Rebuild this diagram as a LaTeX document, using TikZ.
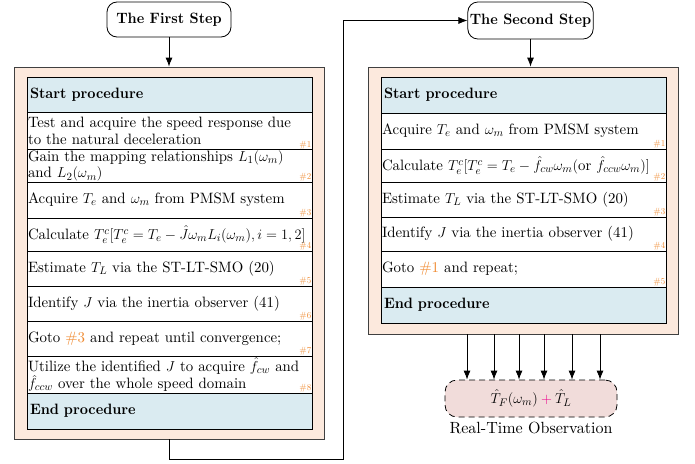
\documentclass[tikz,border=0pt]{standalone}
\usepackage{fontspec}
\setmainfont{lmroman10}[Extension=.otf, UprightFont=*-regular, BoldFont=*-bold,
  ItalicFont=*-italic, BoldItalicFont=*-bolditalic,
  UprightFeatures={FakeStretch=0.99}, BoldFeatures={FakeStretch=0.95}]
\usetikzlibrary{arrows.meta,positioning,calc}
\hyphenpenalty=10000
\exhyphenpenalty=10000

\definecolor{panelfill}{HTML}{FCE9DD}
\definecolor{headfill}{HTML}{DAEBF1}
\definecolor{obsfill}{HTML}{F1DCDA}
\definecolor{tagorange}{HTML}{F08A30}

\begin{document}
\begin{tikzpicture}[
  x=1pt, y=-1pt,
  font=\fontsize{15}{16.5}\selectfont, >={Latex[length=9pt,width=7pt]},
  stepstyle/.style={draw, thick, rounded corners=10pt, font=\fontsize{15}{16}\selectfont\bfseries, minimum height=35, inner sep=2pt},
  panelstyle/.style={draw=black!75, thick, fill=panelfill, minimum width=310},
  headstyle/.style={draw, thick, fill=headfill, text width=279, align=left, inner sep=3pt, font=\fontsize{15}{16}\selectfont\bfseries},
  rowstyle/.style={draw, thick, fill=white, text width=283, align=left, inner sep=1pt},
  tagstyle/.style={text=tagorange, font=\fontsize{9}{10}\selectfont, inner sep=1pt, anchor=south east},
  obsstyle/.style={draw, thick, dash pattern=on 6pt off 4pt, fill=obsfill, rounded corners=12pt, minimum width=172, minimum height=37},
]
\useasboundingbox (0,0) rectangle (695,463);

% --- first step ---
\node[stepstyle, minimum width=124] (first) at (169,19.5) {The First Step};
\node[panelstyle, minimum height=372] (lpanel) at (169,253) {};
\draw[->, thick] (first) -- (lpanel);

\node[headstyle, minimum height=35] (lhead) at (169.5,94.5) {Start procedure};
\node[rowstyle, minimum height=38] (l1) at (169.5,131)
  {Test and acquire the speed response due\\ to the natural deceleration};
\node[rowstyle, minimum height=32] (l2) at (169.5,166)
  {Gain the mapping relationships $L_1(\omega_m)$\\ and $L_2(\omega_m)$};
\node[rowstyle, minimum height=36] (l3) at (169.5,200)
  {Acquire $T_e$ and $\omega_m$ from PMSM system};
\node[rowstyle, minimum height=33] (l4) at (169.5,234.5)
  {Calculate $T_e^c[T_e^c=T_e-\hat{J}\omega_m L_i(\omega_m),i=1,2]$};
\node[rowstyle, minimum height=35] (l5) at (169.5,268.5)
  {Estimate $T_L$ via the ST-LT-SMO (20)};
\node[rowstyle, minimum height=35] (l6) at (169.5,303.5)
  {Identify $J$ via the inertia observer (41)};
\node[rowstyle, minimum height=35] (l7) at (169.5,338.5)
  {Goto {\color{tagorange}\#3} and repeat until convergence;};
\node[rowstyle, minimum height=37] (l8) at (169.5,374.5)
  {Utilize the identified $J$ to acquire $\hat{f}_{cw}$ and\\ $\hat{f}_{ccw}$ over the whole speed domain};
\node[headstyle, minimum height=36] (lend) at (169.5,411) {End procedure};
\foreach \i in {1,...,8}
  \node[tagstyle] (ltag\i) at (l\i.south east) {\#\i};

% --- second step ---
\node[stepstyle, minimum width=123, minimum height=37] (second) at (530.5,20.5) {The Second Step};
\node[panelstyle, minimum height=267] (rpanel) at (523,200.5) {};
\draw[->, thick] (second) -- (second |- rpanel.north);

\node[headstyle, minimum height=36] (rhead) at (523.5,95) {Start procedure};
\node[rowstyle, minimum height=36] (r1) at (523.5,131)
  {Acquire $T_e$ and $\omega_m$ from PMSM system};
\node[rowstyle, minimum height=33] (r2) at (523.5,165.5)
  {Calculate $T_e^c[T_e^c=T_e-\hat{f}_{cw}\omega_m(\mathrm{or}\ \hat{f}_{ccw}\omega_m)]$};
\node[rowstyle, minimum height=35] (r3) at (523.5,199.5)
  {Estimate $T_L$ via the ST-LT-SMO (20)};
\node[rowstyle, minimum height=34] (r4) at (523.5,234)
  {Identify $J$ via the inertia observer (41)};
\node[rowstyle, minimum height=36] (r5) at (523.5,269)
  {Goto {\color{tagorange}\#1} and repeat;};
\node[headstyle, minimum height=36] (rend) at (523.5,305) {End procedure};
\foreach \i in {1,...,5}
  \node[tagstyle] (rtag\i) at (r\i.south east) {\#\i};

% --- link from first to second step ---
\coordinate (turn) at (343,459);
\draw[->, thick] (lpanel.south) |- (turn) |- (second.west);

% --- real-time observation ---
\node[obsstyle] (obs) at (531,398.5) {$\hat{T}_F(\omega_m)\mathbin{\color{magenta}+}\hat{T}_L$};
\node[below=1pt of obs, font=\fontsize{16.2}{17}\selectfont] (obslabel) {Real-Time Observation};
\foreach \x in {467,494,519,544,572,600}
  \draw[->, thick] (\x,0 |- rpanel.south) -- (\x,0 |- obs.north);

\end{tikzpicture}
\end{document}
